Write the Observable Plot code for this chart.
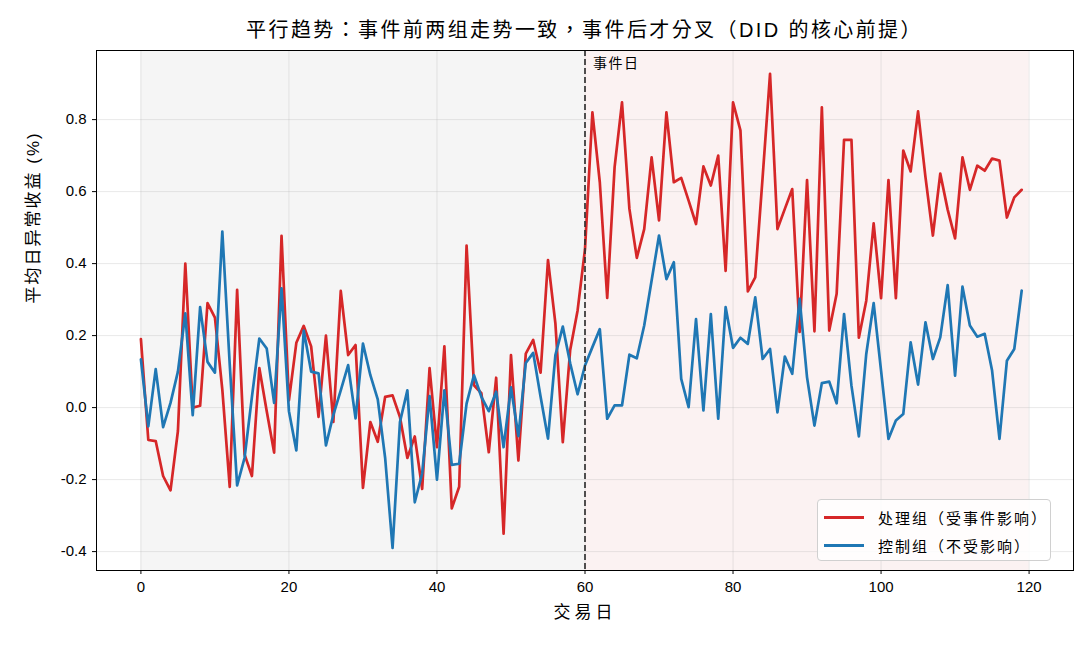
<!DOCTYPE html>
<html>
<head>
<meta charset="utf-8">
<script src="https://cdn.jsdelivr.net/npm/d3@7"></script>
<script src="https://cdn.jsdelivr.net/npm/@observablehq/plot@0.6"></script>
<style>
  html, body { margin: 0; padding: 0; background: white; }
  body { width: 1092px; height: 650px; position: relative; overflow: hidden;
         font-family: "Liberation Sans", "Noto Sans CJK SC", sans-serif; color: black; }
  #title { position: absolute; top: 17px; left: 0; width: 1169px; text-align: center;
           font-family: "Liberation Sans", "Noto Sans CJK TC", sans-serif;
           font-size: 20px; line-height: 26px; letter-spacing: 2.4px; white-space: nowrap; }
  #chart { position: absolute; top: 40px; left: 0; }
  #legend { position: absolute; left: 817px; top: 499px; width: 234px; height: 62px;
            border: 1px solid #d0d0d0; border-radius: 4px; background: rgba(255,255,255,0.85);
            box-sizing: border-box; font-size: 15px; letter-spacing: 2px;
            font-family: "Liberation Sans", "Noto Sans CJK TC", sans-serif; }
  .row { position: absolute; left: 6px; height: 20px; display: flex; align-items: center; white-space: nowrap; }
  .row span.sw { display: inline-block; width: 40px; height: 3px; margin-right: 14px; }
</style>
</head>
<body>
<div id="title">平行趋势：事件前两组走势一致，事件后才分叉（DID 的核心前提）</div>
<div id="chart"></div>
<div id="legend"></div>
<script>
// ---- data ----
const days = d3.range(120);
const treated = [
  0.19, -0.09, -0.093, -0.19, -0.23, -0.065, 0.40, 0.0, 0.005, 0.29,
  0.25, 0.05, -0.22, 0.327, -0.13, -0.19, 0.11, -0.01, -0.125, 0.477,
  0.02, 0.18, 0.227, 0.17, -0.026, 0.2, -0.04, 0.324, 0.146, 0.174,
  -0.223, -0.04, -0.095, 0.03, 0.034, -0.026, -0.14, -0.08, -0.226, 0.11,
  -0.11, 0.17, -0.28, -0.22, 0.45, 0.062, 0.04, -0.124, 0.083, -0.35,
  0.146, -0.147, 0.15, 0.188, 0.097, 0.41, 0.234, -0.096, 0.16, 0.27,
  0.44, 0.82, 0.626, 0.305, 0.668, 0.848, 0.552, 0.416, 0.496, 0.695,
  0.52, 0.82, 0.626, 0.638, 0.575, 0.51, 0.67, 0.617, 0.7, 0.38,
  0.848, 0.77, 0.323, 0.362, 0.64, 0.927, 0.496, 0.552, 0.607, 0.21,
  0.632, 0.212, 0.834, 0.214, 0.316, 0.744, 0.744, 0.194, 0.297, 0.512,
  0.304, 0.632, 0.304, 0.714, 0.656, 0.823, 0.64, 0.478, 0.65, 0.55,
  0.47, 0.695, 0.605, 0.672, 0.658, 0.692, 0.686, 0.528, 0.584, 0.605
];
const control = [
  0.134, -0.052, 0.107, -0.054, 0.013, 0.1, 0.262, -0.021, 0.279, 0.127,
  0.097, 0.489, 0.12, -0.216, -0.14, 0.03, 0.192, 0.164, 0.013, 0.331,
  -0.01, -0.119, 0.214, 0.1, 0.095, -0.105, -0.02, 0.048, 0.118, -0.03,
  0.178, 0.09, 0.023, -0.14, -0.39, -0.04, 0.048, -0.263, -0.183, 0.032,
  -0.2, 0.048, -0.159, -0.156, 0.011, 0.09, 0.03, -0.01, 0.044, -0.11,
  0.056, -0.079, 0.124, 0.152, 0.03, -0.086, 0.146, 0.225, 0.123, 0.037,
  0.117, 0.168, 0.218, -0.031, 0.006, 0.006, 0.147, 0.137, 0.228, 0.353,
  0.478, 0.357, 0.404, 0.08, 0.001, 0.246, -0.008, 0.26, -0.031, 0.279,
  0.166, 0.194, 0.177, 0.306, 0.135, 0.163, -0.013, 0.142, 0.094, 0.302,
  0.084, -0.05, 0.068, 0.072, 0.012, 0.26, 0.061, -0.08, 0.149, 0.29,
  0.103, -0.087, -0.036, -0.018, 0.181, 0.064, 0.237, 0.135, 0.195, 0.34,
  0.089, 0.336, 0.228, 0.197, 0.205, 0.103, -0.087, 0.13, 0.163, 0.325
];
const seriesNames = ["处理组（受事件影响）", "控制组（不受影响）"];
const seriesColors = ["#d62728", "#1f77b4"];
const eventDay = 60;
const preWindow = [0, 60];
const postWindow = [60, 120];
const xTicks = [0, 20, 40, 60, 80, 100, 120];
const yTicks = [-0.4, -0.2, 0.0, 0.2, 0.4, 0.6, 0.8];
const xLabel = "交易日";
const yLabel = "平均日异常收益 (%)";
const eventLabel = "事件日";

// ---- build table ----
const rows = [
  ...days.map((d, i) => ({day: d, value: treated[i], group: seriesNames[0]})),
  ...days.map((d, i) => ({day: d, value: control[i], group: seriesNames[1]}))
];
const font = '"Liberation Sans", "Noto Sans CJK SC", sans-serif';

const chart = Plot.plot({
  width: 1092,
  height: 610,
  marginLeft: 96,
  marginRight: 19,
  marginTop: 10,
  marginBottom: 80,
  style: {fontFamily: font, fontSize: "15px", color: "black", background: "white", overflow: "visible"},
  x: {domain: [-6, 126]},
  y: {domain: [-0.4525, 0.992]},
  color: {domain: seriesNames, range: seriesColors},
  marks: [
    Plot.rect([{x1: preWindow[0], x2: preWindow[1]}], {x1: "x1", x2: "x2", fill: "#f5f5f5"}),
    Plot.rect([{x1: postWindow[0], x2: postWindow[1]}], {x1: "x1", x2: "x2", fill: "#fbf2f2"}),
    Plot.gridX(xTicks, {stroke: "#b0b0b0", strokeOpacity: 0.35, strokeWidth: 0.8}),
    Plot.gridY(yTicks, {stroke: "#b0b0b0", strokeOpacity: 0.35, strokeWidth: 0.8}),
    Plot.line(rows, {x: "day", y: "value", z: "group", stroke: "group", strokeWidth: 2.7, strokeLinejoin: "round"}),
    Plot.ruleX([eventDay], {stroke: "#333333", strokeWidth: 1.7, strokeDasharray: "6,3"}),
    Plot.text([eventLabel], {x: () => eventDay, frameAnchor: "top", text: d => d, textAnchor: "start",
      dx: 8, dy: 8, fontSize: 14, fill: "black"}),
    Plot.axisX(xTicks, {tickSize: 4, tickPadding: 7, label: null, fontSize: 15}),
    Plot.axisY(yTicks, {tickSize: 4, tickPadding: 6, label: null, tickFormat: d => d.toFixed(1), fontSize: 15}),
    Plot.text([xLabel], {frameAnchor: "bottom", text: d => d, dy: 47, fontSize: 17, fill: "black"}),
    Plot.text([yLabel], {frameAnchor: "left", text: d => d, rotate: -90, dx: -63, dy: -7, fontSize: 17, fill: "black"}),
    Plot.frame({stroke: "black", strokeWidth: 1})
  ]
});
document.getElementById("chart").appendChild(chart);
// letter spacing on axis titles
chart.querySelectorAll("text").forEach(t => {
  const s = t.textContent;
  if (s === xLabel) t.style.letterSpacing = "4px";
  if (s === yLabel) t.style.letterSpacing = "2px";
  if (s === eventLabel) t.style.letterSpacing = "1.5px";
});

// legend
const legend = document.getElementById("legend");
seriesNames.forEach((name, i) => {
  const row = document.createElement("div");
  row.className = "row";
  row.style.top = (7 + i * 28) + "px";
  row.innerHTML = `<span class="sw" style="background:${seriesColors[i]}"></span><span>${name}</span>`;
  legend.appendChild(row);
});
</script>
</body>
</html>
